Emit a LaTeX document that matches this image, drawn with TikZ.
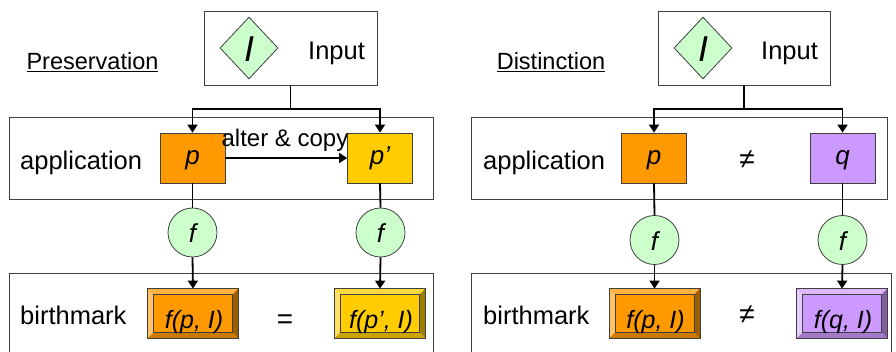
\documentclass[tikz,border=0pt]{standalone}
\usepackage{fontspec}
\setmainfont{Liberation Sans}
\usetikzlibrary{shapes.geometric,arrows.meta,calc}

\definecolor{mint}{HTML}{CCFFCC}
\definecolor{orng}{HTML}{FF9900}
\definecolor{orngL}{HTML}{FFC266}
\definecolor{orngT}{HTML}{FFB240}
\definecolor{orngB}{HTML}{CC7A00}
\definecolor{orngR}{HTML}{9E5F00}
\definecolor{gold}{HTML}{FFCC00}
\definecolor{goldL}{HTML}{FFE066}
\definecolor{goldT}{HTML}{FFD940}
\definecolor{goldB}{HTML}{CCA300}
\definecolor{goldR}{HTML}{9E7E00}
\definecolor{lilac}{HTML}{CC99FF}
\definecolor{lilacL}{HTML}{E6CCFF}
\definecolor{lilacT}{HTML}{DDB8FF}
\definecolor{lilacB}{HTML}{A37ACC}
\definecolor{lilacR}{HTML}{7E5E9E}
\definecolor{edge}{HTML}{404040}

\tikzset{
  panel/.style={draw=edge, line width=0.8pt, fill=white, inner sep=0pt},
  progbox/.style={draw=edge, line width=0.8pt, minimum width=65pt, minimum height=50pt,
    inner sep=0pt, font=\fontsize{26}{30}\selectfont\itshape, text height=20pt, text depth=6pt},
  fcirc/.style={circle, draw=edge, fill=mint, line width=0.8pt, minimum size=49pt,
    inner sep=0pt, font=\fontsize{26}{30}\selectfont\itshape, text height=21pt, text depth=0pt},
  inputdia/.style={diamond, draw=edge, fill=mint, line width=0.8pt, minimum width=58pt,
    minimum height=62pt, inner sep=0pt, font=\fontsize{36}{40}\selectfont\itshape,
    text height=28pt, text depth=0pt},
  bmbox/.style={draw=edge, line width=0.8pt, minimum width=90pt, minimum height=49pt,
    inner sep=0pt, font=\fontsize{25}{30}\selectfont\itshape, text height=29pt, text depth=0pt},
  lbl/.style={font=\fontsize{25.5}{30}\selectfont, anchor=base west, inner sep=0pt},
  heading/.style={font=\fontsize{23.5}{28}\selectfont, anchor=base, inner sep=0pt},
  rel/.style={font=\fontsize{28}{32}\selectfont, inner sep=0pt},
  conn/.style={line width=1.8pt, black},
  arr/.style={conn, -{Triangle[length=8pt,width=10pt]}},
}

% bevelled frame drawn over a rectangular node: node, left, top, right, bottom colours
\newcommand\bevelize[5]{%
  \fill[#2] (#1.north west) -- ($(#1.north west)+(6,6)$) -- ($(#1.south west)+(6,-6)$) -- (#1.south west) -- cycle;
  \fill[#3] (#1.north west) -- (#1.north east) -- ($(#1.north east)+(-6,6)$) -- ($(#1.north west)+(6,6)$) -- cycle;
  \fill[#4] (#1.north east) -- (#1.south east) -- ($(#1.south east)+(-6,-6)$) -- ($(#1.north east)+(-6,6)$) -- cycle;
  \fill[#5] (#1.south west) -- (#1.south east) -- ($(#1.south east)+(-6,-6)$) -- ($(#1.south west)+(6,-6)$) -- cycle;
  \draw[edge, line width=0.6pt] ($(#1.north west)+(6,6)$) rectangle ($(#1.south east)+(-6,-6)$);
  \draw[edge, line width=0.8pt] (#1.north west) rectangle (#1.south east);
}

\begin{document}
\begin{tikzpicture}[x=1pt, y=-1pt]
  \useasboundingbox (0,0) rectangle (896,352);

  % ---------------- Preservation ----------------
  \node[heading] (hL) at (92.5,70) {\underline{Preservation}};

  \node[panel, minimum width=173pt, minimum height=74pt] (inL) at (290.5,48) {};
  \node[inputdia] (dL) at (249,48) {I};
  \node[lbl] (tinL) at (308,60) {Input};

  \node[panel, minimum width=424pt, minimum height=82pt] (apL) at (221,158) {};
  \node[lbl] (tapL) at (20,170) {application};
  \node[progbox, fill=orng] (pL) at (192.5,158) {p};
  \node[progbox, fill=gold] (ppL) at (380,158) {p’};

  \node[panel, minimum width=424pt, minimum height=90pt] (bmL) at (221,318) {};
  \node[lbl] (tbmL) at (20,324) {birthmark};

  \node[fcirc] (fL1) at (192.5,232.5) {f};
  \node[fcirc] (fL2) at (380.5,232.5) {f};

  \node[bmbox, fill=orng] (fpL) at (193,313.5) {};
  \bevelize{fpL}{orngL}{orngT}{orngR}{orngB}
  \node[bmbox, draw=none] (fpLt) at (194,313.5) {f(p, I)};
  \node[bmbox, fill=gold] (fppL) at (380,313.5) {};
  \bevelize{fppL}{goldL}{goldT}{goldR}{goldB}
  \node[bmbox, draw=none] (fppLt) at (381,313.5) {f(p’, I)};
  \node[rel] (eqL) at (285,322) {=};

  \coordinate (jL) at (290.5,109);
  \draw[conn] (inL.south) -- (jL);
  \draw[arr] (jL) -| (pL.north);
  \draw[arr] (jL) -| (ppL.north);
  \draw[arr] (pL.east) -- (ppL.west);
  \node[font=\fontsize{24}{28}\selectfont, anchor=base, inner sep=0pt] (acL) at (285,147) {alter \& copy};
  \draw[conn] (pL.south) -- (fL1.north);
  \draw[conn] (ppL.south) -- (fL2.north);
  \draw[arr] (fL1.south) -- (fpL.north);
  \draw[arr] (fL2.south) -- (fppL.north);

  % ---------------- Distinction ----------------
  \node[heading] (hR) at (551,70) {\underline{Distinction}};

  \node[panel, minimum width=172pt, minimum height=74pt] (inR) at (744,48) {};
  \node[inputdia] (dR) at (703,48) {I};
  \node[lbl] (tinR) at (761,60) {Input};

  \node[panel, minimum width=416pt, minimum height=82pt] (apR) at (679,158) {};
  \node[lbl] (tapR) at (483,170) {application};
  \node[progbox, fill=orng] (pR) at (654,158) {p};
  \node[progbox, fill=lilac] (qR) at (842.5,158) {q};
  \node[rel] (neA) at (747,160) {≠};

  \node[panel, minimum width=420pt, minimum height=90pt] (bmR) at (681,318) {};
  \node[lbl] (tbmR) at (483,324) {birthmark};

  \node[fcirc] (fR1) at (654.5,240) {f};
  \node[fcirc] (fR2) at (842.5,240) {f};

  \node[bmbox, fill=orng] (fpR) at (654.5,313.5) {};
  \bevelize{fpR}{orngL}{orngT}{orngR}{orngB}
  \node[bmbox, draw=none] (fpRt) at (655.5,313.5) {f(p, I)};
  \node[bmbox, fill=lilac] (fqR) at (842,313.5) {};
  \bevelize{fqR}{lilacL}{lilacT}{lilacR}{lilacB}
  \node[bmbox, draw=none] (fqRt) at (843,313.5) {f(q, I)};
  \node[rel] (neB) at (747,314.5) {≠};

  \coordinate (jR) at (744,109);
  \draw[conn] (inR.south) -- (jR);
  \draw[arr] (jR) -| (pR.north);
  \draw[arr] (jR) -| (qR.north);
  \draw[conn] (pR.south) -- (fR1.north);
  \draw[conn] (qR.south) -- (fR2.north);
  \draw[arr] (fR1.south) -- (fpR.north);
  \draw[arr] (fR2.south) -- (fqR.north);
\end{tikzpicture}
\end{document}
